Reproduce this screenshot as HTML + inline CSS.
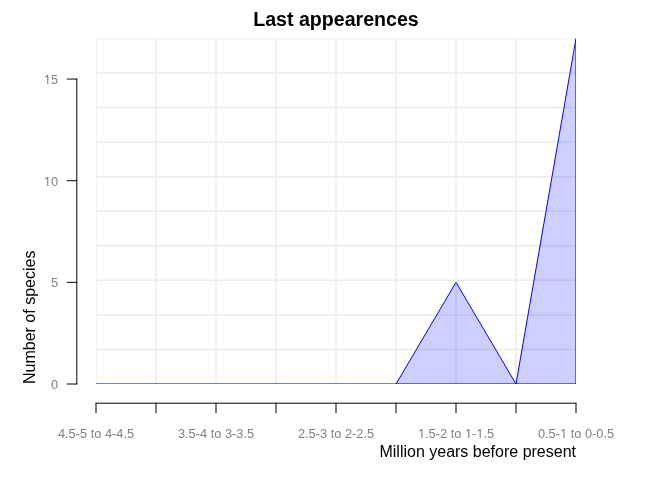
<!DOCTYPE html>
<html><head><meta charset="utf-8"><style>
html,body{margin:0;padding:0;background:#fff;width:672px;height:480px;overflow:hidden}
svg{display:block;will-change:transform}
text{font-family:"Liberation Sans",sans-serif}
</style></head><body>
<svg width="672" height="480" viewBox="0 0 672 480">
<defs><clipPath id="pr"><rect x="96" y="38.4" width="480" height="345.60"/></clipPath></defs>
<rect width="672" height="480" fill="#fff"/>
<g clip-path="url(#pr)">
<path d="M96 38.4V384.0M156 38.4V384.0M216 38.4V384.0M276 38.4V384.0M336 38.4V384.0M396 38.4V384.0M456 38.4V384.0M516 38.4V384.0M576 38.4V384.0M96 38.40H576M96 72.96H576M96 107.52H576M96 142.08H576M96 176.64H576M96 211.20H576M96 245.76H576M96 280.32H576M96 314.88H576M96 349.44H576M96 384.00H576" fill="none" stroke="#EBEBEB" stroke-width="1.5"/>
<polygon points="96,384.00 156,384.00 216,384.00 276,384.00 336,384.00 396,384.00 456,282.35 516,384.00 576,38.40 576,384.0" fill="rgba(0,0,255,0.188)"/>
<path d="M96 384H396L456 282.35L516 384L576 38.4V384H396" fill="none" stroke="#0000FF" stroke-width="1.0" stroke-linejoin="round"/>
</g>
<g fill="none" stroke="#000000" stroke-width="1.0" stroke-linecap="round"><path d="M76.8 384.00V79.06"/><path d="M67.2 384.00H76.8"/><path d="M67.2 282.35H76.8"/><path d="M67.2 180.71H76.8"/><path d="M67.2 79.06H76.8"/><path d="M96 403.2H576"/><path d="M96 403.2V412.8"/><path d="M156 403.2V412.8"/><path d="M216 403.2V412.8"/><path d="M276 403.2V412.8"/><path d="M336 403.2V412.8"/><path d="M396 403.2V412.8"/><path d="M456 403.2V412.8"/><path d="M516 403.2V412.8"/><path d="M576 403.2V412.8"/></g>
<g fill="#808080" font-size="12.8"><text x="58.0" y="388.60" text-anchor="end">0</text><text x="58.0" y="286.95" text-anchor="end">5</text><text x="58.0" y="185.81" text-anchor="end">&#8199;0</text><text x="58.0" y="83.66" text-anchor="end">&#8199;5</text><text x="96" y="438.1" text-anchor="middle">4.5-5 to 4-4.5</text><text x="216" y="438.1" text-anchor="middle">3.5-4 to 3-3.5</text><text x="336" y="438.1" text-anchor="middle">2.5-3 to 2-2.5</text><text x="456" y="438.1" text-anchor="middle">&#8199;.5-2 to &#8199;-&#8199;.5</text><text x="576" y="438.1" text-anchor="middle">0.5-&#8199; to 0-0.5</text><path transform="translate(43.766,84) scale(0.00625,-0.006388)" d="M545 0V1170L215 960V1165L565 1409H726V0Z"/><path transform="translate(43.766,186) scale(0.00625,-0.006388)" d="M545 0V1170L215 960V1165L565 1409H726V0Z"/><path transform="translate(417.938,438) scale(0.00625,-0.006388)" d="M545 0V1170L215 960V1165L565 1409H726V0Z"/><path transform="translate(464.875,438) scale(0.00625,-0.006388)" d="M545 0V1170L215 960V1165L565 1409H726V0Z"/><path transform="translate(476.266,438) scale(0.00625,-0.006388)" d="M545 0V1170L215 960V1165L565 1409H726V0Z"/><path transform="translate(559.984,438) scale(0.00625,-0.006388)" d="M545 0V1170L215 960V1165L565 1409H726V0Z"/></g>
<text x="576" y="456.8" text-anchor="end" font-size="16" fill="#000">Million years before present</text>
<text transform="translate(34.8,384) rotate(-90)" x="0" y="0" font-size="16" fill="#000">Number of species</text>
<text x="336" y="26" text-anchor="middle" font-size="19.6" font-weight="bold" fill="#000">Last appearences</text>
</svg>
</body></html>
